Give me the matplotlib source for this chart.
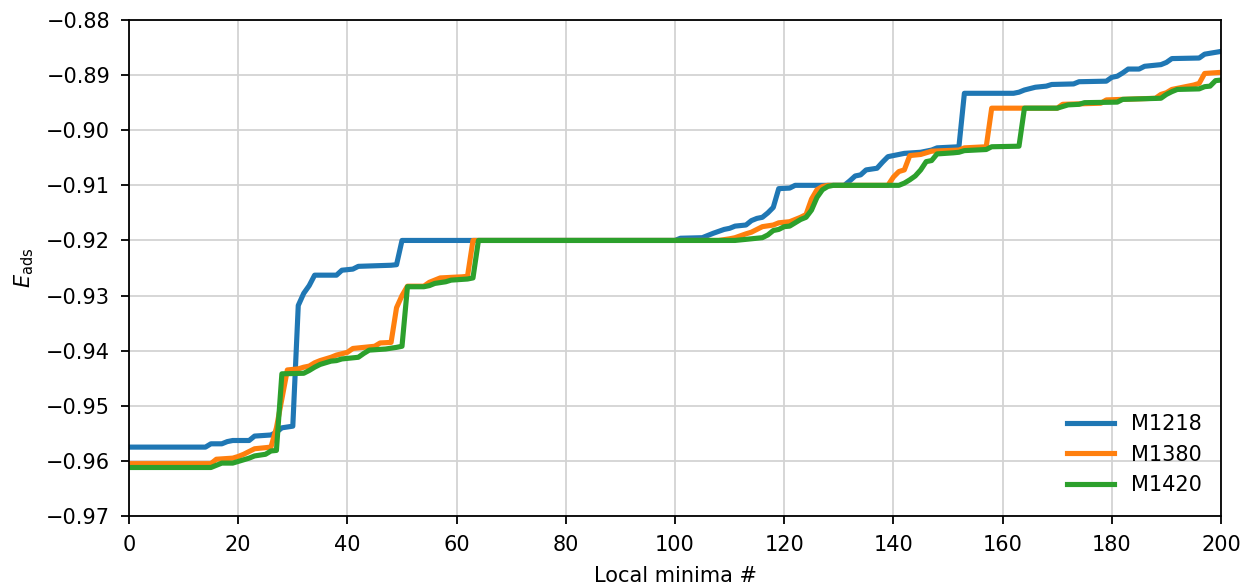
import matplotlib
matplotlib.use("Agg")
import matplotlib.pyplot as plt

# Sorted adsorption energies per local minimum, key points
m1218_x = [0, 14, 15, 17, 18, 19, 22, 23, 26, 27, 28, 30, 31, 32, 33, 34, 38, 39, 41, 42,
           48, 49, 50, 100, 101, 105, 107, 109, 110, 111, 113, 114, 115, 116, 117, 118,
           119, 121, 122, 131, 132, 133, 134, 135, 137, 138, 139, 141, 142, 145, 147, 148,
           152, 153, 162, 163, 164, 166, 168, 169, 173, 174, 179, 180, 181, 182, 183, 185,
           186, 189, 190, 191, 196, 197, 200]
m1218_y = [-0.9575, -0.9575, -0.9569, -0.9569, -0.9565, -0.9563, -0.9563, -0.9555, -0.9553,
           -0.9548, -0.9540, -0.9537, -0.9318, -0.9296, -0.9282, -0.9263, -0.9263, -0.9254,
           -0.9252, -0.9247, -0.9245, -0.9244, -0.9200, -0.9200, -0.9196, -0.9195, -0.9187,
           -0.9180, -0.9178, -0.9174, -0.9172, -0.9164, -0.9160, -0.9158, -0.9150, -0.9140,
           -0.9106, -0.9105, -0.9100, -0.9100, -0.9092, -0.9083, -0.9081, -0.9072, -0.9069,
           -0.9058, -0.9048, -0.9044, -0.9042, -0.9040, -0.9036, -0.9032, -0.9030, -0.8933,
           -0.8933, -0.8931, -0.8927, -0.8922, -0.8920, -0.8917, -0.8916, -0.8912, -0.8911,
           -0.8904, -0.8902, -0.8896, -0.8889, -0.8889, -0.8884, -0.8881, -0.8877, -0.8870,
           -0.8869, -0.8862, -0.8857]

m1380_x = [0, 15, 16, 19, 20, 21, 22, 23, 26, 27, 29, 31, 32, 33, 34, 35, 37, 38, 40, 41,
           45, 46, 48, 49, 50, 51, 54, 55, 56, 57, 61, 62, 63, 108, 110, 111, 113, 114, 115,
           116, 118, 119, 121, 122, 123, 124, 125, 126, 127, 128, 139, 140, 141, 142, 143,
           145, 147, 152, 153, 157, 158, 170, 171, 178, 179, 188, 189, 190, 191, 193, 195,
           196, 197, 200]
m1380_y = [-0.9605, -0.9605, -0.9597, -0.9595, -0.9592, -0.9588, -0.9583, -0.9578, -0.9575,
           -0.9540, -0.9435, -0.9433, -0.9430, -0.9428, -0.9422, -0.9418, -0.9412, -0.9408,
           -0.9403, -0.9396, -0.9392, -0.9386, -0.9385, -0.9322, -0.9300, -0.9283, -0.9283,
           -0.9276, -0.9272, -0.9268, -0.9266, -0.9265, -0.9200, -0.9200, -0.9197, -0.9195,
           -0.9188, -0.9185, -0.9180, -0.9175, -0.9172, -0.9168, -0.9166, -0.9162, -0.9158,
           -0.9153, -0.9125, -0.9108, -0.9102, -0.9100, -0.9100, -0.9085, -0.9075, -0.9072,
           -0.9046, -0.9044, -0.9038, -0.9036, -0.9032, -0.9030, -0.8960, -0.8960, -0.8953,
           -0.8951, -0.8945, -0.8942, -0.8935, -0.8932, -0.8926, -0.8922, -0.8918, -0.8915,
           -0.8897, -0.8895]

m1420_x = [0, 15, 16, 17, 19, 20, 21, 22, 23, 25, 26, 27, 28, 32, 33, 34, 35, 36, 37, 38,
           39, 42, 43, 44, 47, 49, 50, 51, 54, 55, 56, 58, 59, 62, 63, 64, 111, 112, 114,
           116, 117, 118, 119, 120, 121, 122, 123, 124, 125, 126, 127, 128, 129, 141, 142,
           143, 144, 145, 146, 147, 148, 151, 152, 153, 157, 158, 163, 164, 170, 171, 172,
           174, 175, 181, 182, 189, 190, 191, 192, 196, 197, 198, 199, 200]
m1420_y = [-0.9612, -0.9612, -0.9608, -0.9604, -0.9604, -0.9601, -0.9598, -0.9595, -0.9591,
           -0.9588, -0.9582, -0.9581, -0.9442, -0.9441, -0.9436, -0.9430, -0.9425, -0.9422,
           -0.9419, -0.9418, -0.9415, -0.9412, -0.9405, -0.9399, -0.9397, -0.9394, -0.9392,
           -0.9284, -0.9284, -0.9282, -0.9278, -0.9275, -0.9272, -0.9270, -0.9268, -0.9200,
           -0.9200, -0.9199, -0.9197, -0.9195, -0.9190, -0.9182, -0.9180, -0.9175, -0.9174,
           -0.9168, -0.9162, -0.9158, -0.9145, -0.9122, -0.9108, -0.9102, -0.9100, -0.9100,
           -0.9096, -0.9090, -0.9083, -0.9072, -0.9057, -0.9055, -0.9043, -0.9041, -0.9040,
           -0.9037, -0.9035, -0.9030, -0.9029, -0.8960, -0.8960, -0.8957, -0.8954, -0.8953,
           -0.8950, -0.8949, -0.8944, -0.8942, -0.8935, -0.8930, -0.8926, -0.8925, -0.8921,
           -0.8920, -0.8910, -0.8909]

x_ticks = [0, 20, 40, 60, 80, 100, 120, 140, 160, 180, 200]
y_ticks = [-0.97, -0.96, -0.95, -0.94, -0.93, -0.92, -0.91, -0.90, -0.89, -0.88]

plt.rcParams['font.size'] = 15

fig = plt.figure(figsize=(12.4, 5.85), dpi=100)
ax = fig.add_axes([129 / 1240, 1 - 516 / 585, (1221 - 129) / 1240, (516 - 20) / 585])

ax.plot(m1218_x, m1218_y, color='#1f77b4', lw=3.7, label='M1218')
ax.plot(m1380_x, m1380_y, color='#ff7f0e', lw=3.7, label='M1380')
ax.plot(m1420_x, m1420_y, color='#2ca02c', lw=3.7, label='M1420')

ax.set_xlim(0, 200)
ax.set_ylim(-0.97, -0.88)
ax.set_xticks(x_ticks)
ax.set_yticks(y_ticks)
ax.set_yticklabels([f'{v:.2f}'.replace('-', '\u2212') for v in y_ticks])
ax.grid(True, color='#d3d3d3', lw=1.3)
ax.set_axisbelow(True)
for s in ax.spines.values():
    s.set_linewidth(1.3)
ax.tick_params(width=1.3, length=5.5, pad=8)

ax.set_xlabel('Local minima #', labelpad=8)
ax.set_ylabel(r'$E_{\mathrm{ads}}$', labelpad=7)
ax.legend(loc='lower right', frameon=False, handlelength=2.3, handletextpad=0.8,
          borderaxespad=0.8, bbox_to_anchor=(1.0055, -0.008))

fig.savefig('out.png', dpi=100)
